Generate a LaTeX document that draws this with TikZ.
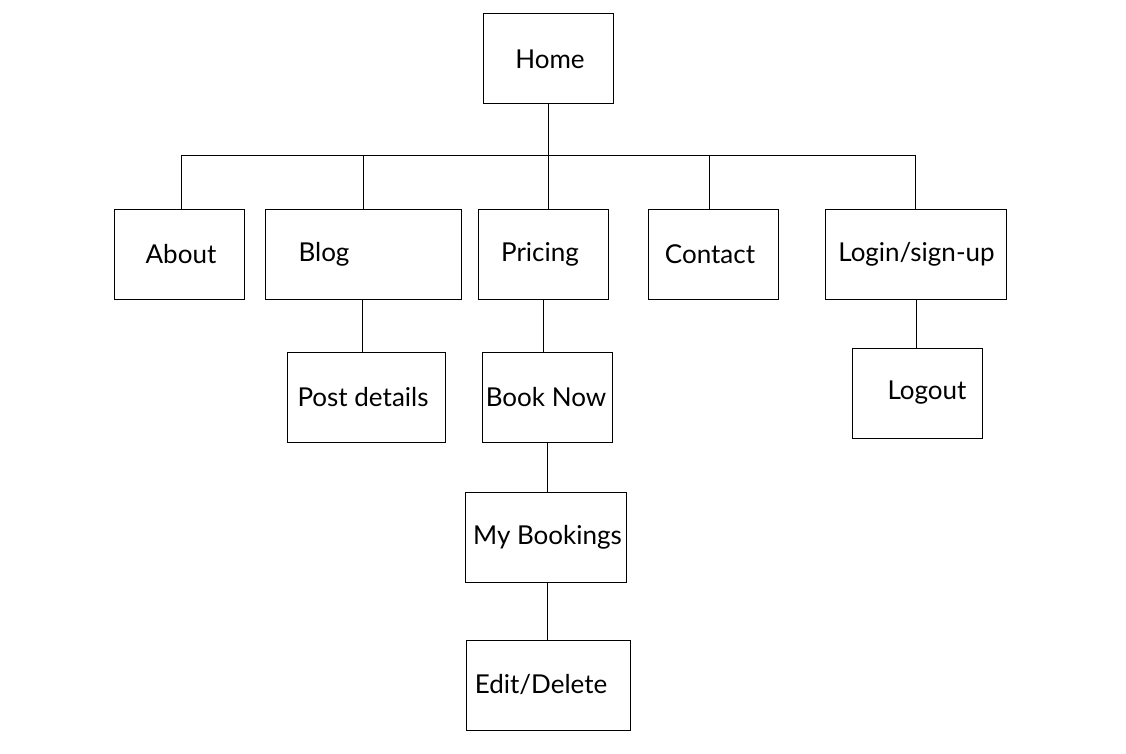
\documentclass[tikz,border=0pt]{standalone}
\usepackage{fontspec}
\setmainfont{Lato}
\usetikzlibrary{positioning}
\tikzset{
    %Define style for page boxes
    pagebox/.style={
           rectangle,
           draw=black, line width=1pt,
           minimum width=130pt,
           minimum height=90pt,
           inner sep=0pt},
    %Define style for page names
    pagetext/.style={
           font=\fontsize{26}{31}\selectfont,
           inner sep=0pt},
    % Define line style
    link/.style={
           line width=0.9pt}
}
\newcommand{\pagename}[3]{\node [pagetext] at ([xshift=#2pt]#1.center) {#3};}
\begin{document}
\begin{tikzpicture}[x=1pt,y=-1pt]
    \useasboundingbox (0,0) rectangle (1126,754);
    \node (home) [pagebox] at (548,59) {};
    \node (about) [pagebox] at (179,254) {};
    \node (blog) [pagebox, minimum width=196pt] at (363,254) {};
    \node (pricing) [pagebox] at (543,254) {};
    \node (contact) [pagebox] at (713,254) {};
    \node (login) [pagebox, minimum width=181pt] at (915.5,254) {};
    \node (post) [pagebox, minimum width=158pt] at (366,397) {};
    \node (book) [pagebox] at (547,397) {};
    \node (logout) [pagebox] at (917,393) {};
    \node (mybook) [pagebox, minimum width=161pt] at (545.5,537) {};
    \node (edit) [pagebox, minimum width=164pt] at (548,685) {};
    \pagename{home}{2}{Home}
    \pagename{about}{2}{About}
    \pagename{blog}{-39}{Blog}
    \pagename{pricing}{-3}{Pricing}
    \pagename{contact}{-3}{Contact}
    \pagename{login}{1}{Login/sign-up}
    \pagename{post}{-3}{Post details}
    \pagename{book}{-1}{Book Now}
    \pagename{logout}{10}{Logout}
    \pagename{mybook}{2}{My Bookings}
    \pagename{edit}{-7}{Edit/Delete}
    % bus under Home
    \coordinate (bus) at (549,155);
    \draw [link] (home.south) -- (home.south |- bus);
    \draw [link] ([xshift=2pt]about.north |- bus) -- (login.north |- bus);
    \foreach \p/\s in {about/2,blog/0,pricing/5,contact/-4,login/0}
        \draw [link] ([xshift=\s pt]\p.north |- bus) -- ([xshift=\s pt]\p.north);
    % sub pages
    \draw [link] ([xshift=-1pt]blog.south) -- ([xshift=-1pt]blog.south |- post.north);
    \draw [link] (pricing.south) -- (pricing.south |- book.north);
    \draw [link] (book.south) -- (book.south |- mybook.north);
    \draw [link] ([xshift=2pt]mybook.south) -- ([xshift=2pt]mybook.south |- edit.north);
    \draw [link] ([xshift=1pt]login.south) -- ([xshift=1pt]login.south |- logout.north);
\end{tikzpicture}
\end{document}
